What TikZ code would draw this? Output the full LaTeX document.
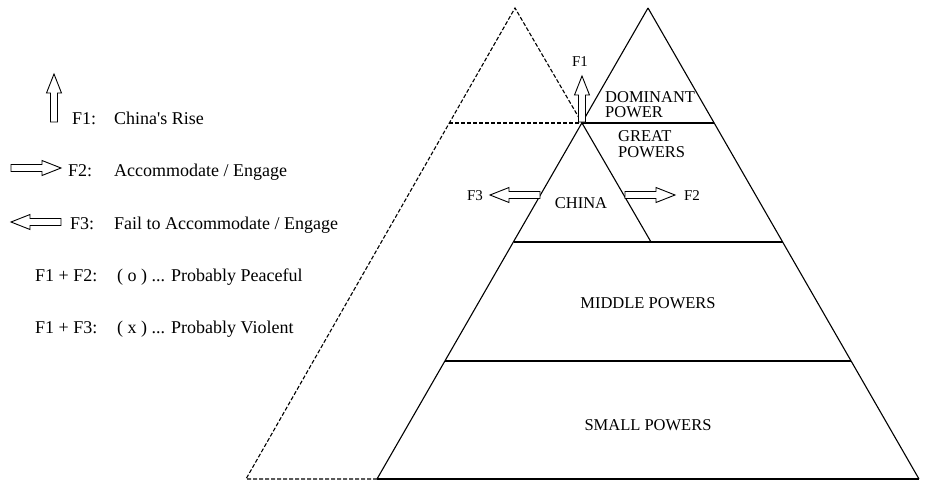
\documentclass[tikz,border=0pt]{standalone}
\usepackage{fontspec}
\setmainfont{Liberation Serif}
\begin{document}
\begin{tikzpicture}[x=1pt,y=-1pt,
  edge/.style={line width=1.1pt},
  hline/.style={line width=1.7pt},
  dashedge/.style={line width=1.1pt, dash pattern=on 4pt off 2pt},
  blockarrow/.pic={
    \draw[line width=0.9pt, fill=white, line join=miter]
      (0,-3.5) -- (#1-19,-3.5) -- (#1-19,-7.5) -- (#1,0) -- (#1-19,7.5)
      -- (#1-19,3.5) -- (0,3.5) -- cycle;},
  legend/.style={font=\fontsize{18}{20}\selectfont, anchor=base west, inner sep=0pt},
  tier/.style={font=\fontsize{16.5}{16}\selectfont, anchor=base, inner sep=0pt},
  tierl/.style={tier, anchor=base west},
  flabel/.style={font=\fontsize{15}{15}\selectfont, anchor=base, inner sep=0pt}]
\useasboundingbox[fill=white] (0,0) rectangle (927,485);

% vertices
\coordinate (A) at (648,8);
\coordinate (BL) at (377,479);
\coordinate (BR) at (919,479);
\coordinate (D) at (515,8);
\coordinate (DL) at (246,479);
\coordinate (X) at (582,123);
\coordinate (C1) at (514,242);
\coordinate (C2) at (651,242);
\coordinate (DomR) at (714,123);
\coordinate (DashL) at (449,123);
\coordinate (GrR) at (783,242);
\coordinate (MidL) at (445,361);
\coordinate (MidR) at (851,361);

% dashed (hypothetical) pyramid
\draw[dashedge] (BL) -- (DL) -- (D) -- (X);
\draw[dashedge] (DashL) -- (X);
% China triangle right side
\draw[edge] (X) -- (C2);
% main pyramid
\draw[edge] (A) -- (BL);
\draw[edge] (A) -- (BR);
\draw[hline] (BL) -- (BR);
\draw[hline] (X) -- (DomR);
\draw[hline] (C1) -- (GrR);
\draw[hline] (MidL) -- (MidR);

% tier labels
\node[tierl] (dom1) at (605,102) {DOMINANT};
\node[tierl] (dom2) at (605,117) {POWER};
\node[tierl] (gr1) at (618,141) {GREAT};
\node[tierl] (gr2) at (618,157) {POWERS};
\node[tier] (china) at (581,208) {CHINA};
\node[tier] (mid) at (648,308) {MIDDLE POWERS};
\node[tier] (small) at (648,430) {SMALL POWERS};

% force arrows in pyramid
\pic[rotate=90] (f1arr) at (582,122) {blockarrow=46};
\node[flabel] (f1lab) at (580,66) {F1};
\pic[rotate=180] (f3arr) at (540,195) {blockarrow=50};
\node[flabel] (f3lab) at (475,200) {F3};
\pic (f2arr) at (625,195) {blockarrow=50};
\node[flabel] (f2lab) at (692,200) {F2};

% legend
\pic[rotate=90] (lg1arr) at (54,122) {blockarrow=48};
\node[legend] (lg1a) at (72,124) {F1:};
\node[legend] (lg1b) at (114,124) {China\textquotesingle s Rise};
\pic (lg2arr) at (11,168) {blockarrow=50};
\node[legend] (lg2a) at (68,176) {F2:};
\node[legend] (lg2b) at (114,176) {Accommodate / Engage};
\pic[rotate=180] (lg3arr) at (61,222) {blockarrow=50};
\node[legend] (lg3a) at (70,229) {F3:};
\node[legend] (lg3b) at (114,229) {Fail to Accommodate / Engage};
\node[legend] (lg4a) at (35,281) {F1 + F2:};
\node[legend] (lg4b) at (117,281) {( o ) ... Probably Peaceful};
\node[legend] (lg5a) at (35,333) {F1 + F3:};
\node[legend] (lg5b) at (117,333) {( x ) ... Probably Violent};
\end{tikzpicture}
\end{document}
